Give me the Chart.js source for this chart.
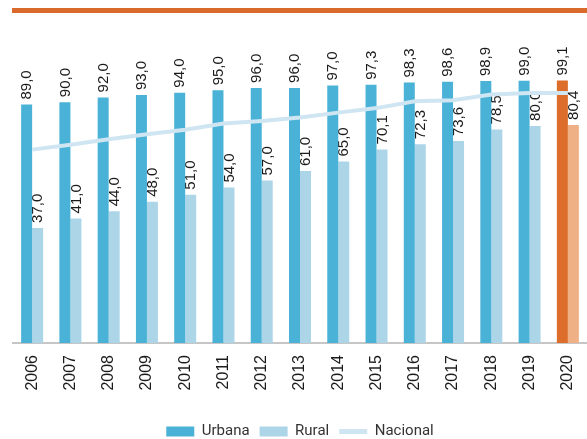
<!DOCTYPE html>
<html>
<head>
<meta charset="utf-8">
<script src="https://cdn.jsdelivr.net/npm/chart.js@4/dist/chart.umd.min.js"></script>
<style>
  html, body { margin: 0; padding: 0; background: #fff; overflow: hidden; }
  canvas { display: block; }
</style>
</head>
<body>
<canvas id="chart" width="587" height="439"></canvas>
<script>
const YEARS = ['2006', '2007', '2008', '2009', '2010', '2011', '2012', '2013',
  '2014', '2015', '2016', '2017', '2018', '2019', '2020'];
const URBANA = [89.0, 90.0, 92.0, 93.0, 94.0, 95.0, 96.0, 96.0, 97.0, 97.3, 98.3, 98.6, 98.9, 99.0, 99.1];
const RURAL = [37.0, 41.0, 44.0, 48.0, 51.0, 54.0, 57.0, 61.0, 65.0, 70.1, 72.3, 73.6, 78.5, 80.0, 80.4];
const NACIONAL = [70.0, 72.1, 74.4, 76.5, 78.4, 81.0, 82.1, 83.5, 85.6, 87.5, 90.4, 90.8, 93.2, 93.9, 93.9];

const Y_MIN = -11.5;
const Y_MAX = 120;

const BLUE = '#4ab2d7';
const LIGHT_BLUE = '#acd5e8';
const LINE_BLUE = '#cfe6f2';
const ORANGE = '#dc6d2b';
const LIGHT_ORANGE = '#eeb084';

// last year is highlighted in orange
const urbanaColors = YEARS.map((_, i) => i === YEARS.length - 1 ? ORANGE : BLUE);
const ruralColors = YEARS.map((_, i) => i === YEARS.length - 1 ? LIGHT_ORANGE : LIGHT_BLUE);

const fmt = v => v.toFixed(1).replace('.', ',');

// orange rule at the top
const topRule = {
  id: 'topRule',
  beforeDraw(chart) {
    const c = chart.ctx;
    c.save();
    c.fillStyle = '#d96a2b';
    c.fillRect(chart.chartArea.left - 1, 8, chart.width, 5);
    c.restore();
  }
};

// vertical value labels above each bar
const barLabels = {
  id: 'barLabels',
  afterDatasetDraw(chart, args) {
    const meta = args.meta;
    if (meta.type !== 'bar') return;
    const data = chart.data.datasets[args.index].data;
    const c = chart.ctx;
    c.save();
    c.font = '15px "Liberation Sans", Arial, sans-serif';
    c.fillStyle = '#1a1a1a';
    c.textAlign = 'left';
    c.textBaseline = 'middle';
    meta.data.forEach((bar, i) => {
      c.save();
      c.translate(bar.x + 0.5, bar.y - 5);
      c.rotate(-Math.PI / 2);
      c.fillText(fmt(data[i]), 0, 0);
      c.restore();
    });
    c.restore();
  }
};

const ctx = document.getElementById('chart').getContext('2d');
new Chart(ctx, {
  type: 'bar',
  data: {
    labels: YEARS,
    datasets: [
      {
        label: 'Urbana', data: URBANA, backgroundColor: urbanaColors,
        base: Y_MIN, borderWidth: 0, order: 1,
        barPercentage: 1, categoryPercentage: 0.575
      },
      {
        label: 'Rural', data: RURAL, backgroundColor: ruralColors,
        base: Y_MIN, borderWidth: 0, order: 1,
        barPercentage: 1, categoryPercentage: 0.575
      },
      {
        type: 'line', label: 'Nacional', data: NACIONAL,
        borderColor: LINE_BLUE, backgroundColor: LINE_BLUE,
        borderWidth: 4, pointRadius: 0, tension: 0, order: 0
      }
    ]
  },
  options: {
    responsive: false,
    animation: false,
    layout: { autoPadding: false, padding: { left: 13, right: 0, top: 31, bottom: -10 } },
    plugins: {
      tooltip: { enabled: false },
      legend: {
        position: 'bottom',
        labels: {
          usePointStyle: true,
          pointStyleWidth: 28,
          boxHeight: 10,
          padding: 10,
          color: '#333',
          font: { family: 'Roboto', size: 15 },
          sort: (a, b) => a.datasetIndex - b.datasetIndex,
          generateLabels(chart) {
            const items = Chart.defaults.plugins.legend.labels.generateLabels(chart);
            return items.map(it => {
              if (it.text === 'Nacional') {
                it.pointStyle = 'line';
                it.lineWidth = 5;
                it.strokeStyle = LINE_BLUE;
              } else {
                it.pointStyle = 'rect';
                it.lineWidth = 0;
              }
              return it;
            });
          }
        }
      }
    },
    scales: {
      x: {
        grid: { display: false, drawTicks: false },
        border: { display: true, color: '#c6c6c6', width: 2 },
        ticks: {
          minRotation: 90, maxRotation: 90, padding: 12,
          color: '#1a1a1a',
          font: { family: 'Liberation Sans', size: 16 }
        },
        afterFit(scale) {
          scale.height = 71;
          scale.paddingLeft = 0;
          scale.paddingRight = 0;
        }
      },
      y: {
        display: false,
        min: Y_MIN,
        max: Y_MAX
      }
    }
  },
  plugins: [topRule, barLabels]
});
</script>
</body>
</html>
